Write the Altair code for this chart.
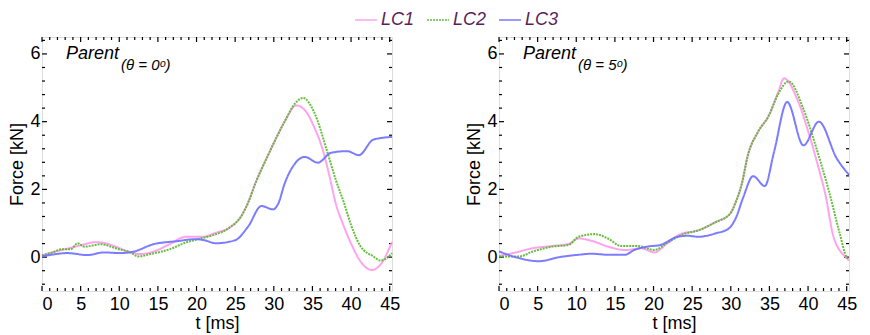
import altair as alt
import pandas as pd

SERIES = ["LC1", "LC2", "LC3"]
COLORS = ["#ff99ee", "#55b82a", "#6e6eff"]
DASHES = [[1, 0], [2, 1], [1, 0]]

# ---- Left panel (theta = 0) ----
L1_T = [0, 1.5, 2.9, 5, 6.9, 8, 9.3, 11, 12.7, 14.4, 16.5, 18.6, 20.8, 22.5, 24.2, 25.9, 26.7, 27.6, 29.3, 31.4, 32.9, 34.2, 35.3, 36.3, 37.2, 38.0, 39.0, 40.0, 41.2, 42.7, 43.8, 45.3]
L1_F = [0.05, 0.15, 0.23, 0.35, 0.44, 0.42, 0.33, 0.18, 0.09, 0.16, 0.38, 0.6, 0.6, 0.72, 0.86, 1.25, 1.62, 2.17, 3.03, 4.0, 4.48, 4.29, 3.8, 3.2, 2.4, 1.6, 0.95, 0.4, -0.12, -0.38, -0.22, 0.45]

L2_T = [0, 1.5, 2.5, 3.7, 4.6, 5.5, 7.6, 9.7, 11.4, 12.5, 14, 16.5, 18.6, 20.5, 22, 24.2, 25.9, 26.7, 27.6, 29.3, 31.4, 32.8, 33.8, 35.2, 36.9, 38.0, 39.1, 40.0, 41.2, 42.9, 43.8, 44.5, 45.3]
L2_F = [0.05, 0.15, 0.23, 0.23, 0.41, 0.31, 0.38, 0.25, 0.14, 0.02, 0.09, 0.23, 0.43, 0.55, 0.64, 0.86, 1.25, 1.62, 2.17, 3.03, 4.0, 4.55, 4.7, 4.29, 3.13, 2.3, 1.59, 0.95, 0.33, 0.02, -0.1, -0.05, 0.12]

L3_T = [0, 1.5, 3.3, 5.9, 8, 10.1, 11.8, 14.4, 17.4, 19.9, 21, 22.5, 25, 26.7, 28.4, 29.9, 30.6, 31.4, 32.6, 34, 35.7, 37.4, 39.5, 41, 42.9, 45.3]
L3_F = [0.02, 0.08, 0.12, 0.06, 0.14, 0.12, 0.16, 0.38, 0.47, 0.53, 0.5, 0.41, 0.5, 0.91, 1.51, 1.41, 1.59, 2.17, 2.72, 2.96, 2.79, 3.08, 3.13, 3.01, 3.47, 3.55]

# ---- Right panel (theta = 5) ----
R1_T = [0, 1.8, 4.3, 6.9, 9, 10.3, 12, 14.1, 16.3, 18.4, 20.1, 21.8, 23.5, 25.8, 28, 29.9, 30.7, 31.4, 32.2, 33.5, 34.9, 36.1, 36.9, 38.6, 40.3, 41.6, 42.2, 43.3, 45, 45.3]
R1_F = [0.04, 0.12, 0.26, 0.33, 0.39, 0.55, 0.48, 0.31, 0.21, 0.26, 0.14, 0.41, 0.68, 0.79, 1.03, 1.28, 1.66, 2.14, 3.0, 3.69, 4.17, 4.85, 5.28, 4.66, 3.5, 2.43, 1.9, 0.6, -0.03, -0.1]

R2_T = [0, 2.6, 4.3, 6.9, 9, 10.3, 12.4, 14.1, 15.8, 17.9, 20.1, 21.8, 23.9, 25.8, 28, 29.9, 30.7, 31.4, 32.2, 33.5, 34.9, 36.1, 37.5, 39.4, 41.1, 42.7, 44.1, 45, 45.3]
R2_F = [0.02, 0.02, 0.16, 0.31, 0.36, 0.6, 0.68, 0.55, 0.33, 0.33, 0.21, 0.43, 0.68, 0.79, 1.03, 1.28, 1.66, 2.14, 3.0, 3.69, 4.17, 4.8, 5.19, 4.37, 3.2, 1.95, 0.7, 0.0, -0.05]

R3_T = [0, 1.3, 2.6, 5.2, 7.8, 10.3, 12, 14.1, 16.3, 17.5, 19.2, 20.9, 23.1, 24.4, 25.8, 28, 29.7, 30.7, 31.6, 32.9, 34.4, 35.6, 37.3, 39.4, 41.4, 43.7, 45.3]
R3_F = [0.17, 0.06, -0.03, -0.12, 0.0, 0.07, 0.1, 0.07, 0.07, 0.21, 0.31, 0.36, 0.6, 0.63, 0.6, 0.7, 0.84, 1.18, 1.76, 2.39, 2.1, 3.11, 4.58, 3.3, 4.0, 2.92, 2.43]

X_LABELS = [0, 5, 10, 15, 20, 25, 30, 35, 40, 45]
Y_LABELS = [0, 2, 4, 6]
X_MINOR = [1, 2, 3, 4, 6, 7, 8, 9, 11, 12, 13, 14, 16, 17, 18, 19, 21, 22, 23, 24,
           26, 27, 28, 29, 31, 32, 33, 34, 36, 37, 38, 39, 41, 42, 43, 44]
Y_MINOR = [-0.8, -0.4, 0.4, 0.8, 1.2, 1.6, 2.4, 2.8, 3.2, 3.6, 4.4, 4.8, 5.2, 5.6, 6.4]

X_DOMAIN = [0, 45.3]
Y_DOMAIN = [-1, 6.5]

W, H = 350, 254
FONT = "Liberation Sans"


def make_df(parts):
    rows = []
    for name, ts, fs in parts:
        for t, f in zip(ts, fs):
            rows.append({"series": name, "t": t, "F": f})
    return pd.DataFrame(rows)


left_df = make_df([("LC1", L1_T, L1_F), ("LC2", L2_T, L2_F), ("LC3", L3_T, L3_F)])
right_df = make_df([("LC1", R1_T, R1_F), ("LC2", R2_T, R2_F), ("LC3", R3_T, R3_F)])

xenc = alt.X("t:Q", scale=alt.Scale(domain=X_DOMAIN, nice=False, zero=False),
             axis=alt.Axis(values=X_LABELS, title="t [ms]", ticks=False, domain=False, grid=False,
                           labelFontSize=18, titleFontSize=18, labelFont=FONT, titleFont=FONT,
                           labelPadding=4, titlePadding=1, titleFontWeight="normal",
                           labelColor="black", titleColor="black"))
yenc = alt.Y("F:Q", scale=alt.Scale(domain=Y_DOMAIN, nice=False, zero=False),
             axis=alt.Axis(values=Y_LABELS, title="Force [kN]", ticks=False, domain=False, grid=False,
                           labelFontSize=18, titleFontSize=18, labelFont=FONT, titleFont=FONT,
                           labelPadding=2, titlePadding=3, titleFontWeight="normal",
                           labelColor="black", titleColor="black"))

legend_opts = dict(title=None, orient="none", direction="horizontal", legendX=312, legendY=-29,
                   symbolType="stroke", symbolSize=484, symbolStrokeWidth=1.6,
                   labelFont=FONT, labelFontSize=18, labelFontStyle="italic", labelColor="#5c1f5c",
                   labelOffset=3, columnPadding=8)


def ticks_layers(xs, ys, size, color="black"):
    out = []
    xd = pd.DataFrame({"t": xs})
    yd = pd.DataFrame({"F": ys})
    out.append(alt.Chart(xd).mark_rule(color=color, strokeWidth=1.2).encode(
        x=xenc, y=alt.value(H), y2=alt.value(H - size)))
    out.append(alt.Chart(xd).mark_rule(color=color, strokeWidth=1.2).encode(
        x=xenc, y=alt.value(0), y2=alt.value(size)))
    out.append(alt.Chart(yd).mark_rule(color=color, strokeWidth=1.2).encode(
        y=yenc, x=alt.value(0), x2=alt.value(size)))
    out.append(alt.Chart(yd).mark_rule(color=color, strokeWidth=1.2).encode(
        y=yenc, x=alt.value(W), x2=alt.value(W - size)))
    return out


def panel(df, sub):
    lines = alt.Chart(df).mark_line(interpolate="monotone", strokeWidth=2, opacity=0.9).encode(
        x=xenc, y=yenc,
        color=alt.Color("series:N", scale=alt.Scale(domain=SERIES, range=COLORS), legend=alt.Legend(**legend_opts)),
        strokeDash=alt.StrokeDash("series:N", scale=alt.Scale(domain=SERIES, range=DASHES), legend=alt.Legend(**legend_opts)),
    )
    one = pd.DataFrame({"a": [0]})
    t1 = alt.Chart(one).mark_text(text="Parent", font=FONT, fontSize=18, fontStyle="italic",
                                  align="left", baseline="alphabetic", color="black").encode(
        x=alt.value(24), y=alt.value(22))
    t2 = alt.Chart(one).mark_text(text=sub, font=FONT, fontSize=15, fontStyle="italic",
                                  align="left", baseline="alphabetic", color="black").encode(
        x=alt.value(79), y=alt.value(33))
    layers = ticks_layers(X_LABELS, Y_LABELS, 5) + ticks_layers(X_MINOR, Y_MINOR, 3) + [lines, t1, t2]
    return alt.layer(*layers).properties(width=W, height=H)


left = panel(left_df, "(θ = 0ᵒ)")
right = panel(right_df, "(θ = 5ᵒ)")

chart = alt.hconcat(left, right, spacing=64).resolve_scale(color="shared", strokeDash="shared").properties(
    padding={"left": 0, "right": 0, "top": 0, "bottom": 0}
).configure_view(stroke="black", strokeWidth=2).configure(background="white")

chart.save("out.html", embed_options={"renderer": "svg", "actions": False})
